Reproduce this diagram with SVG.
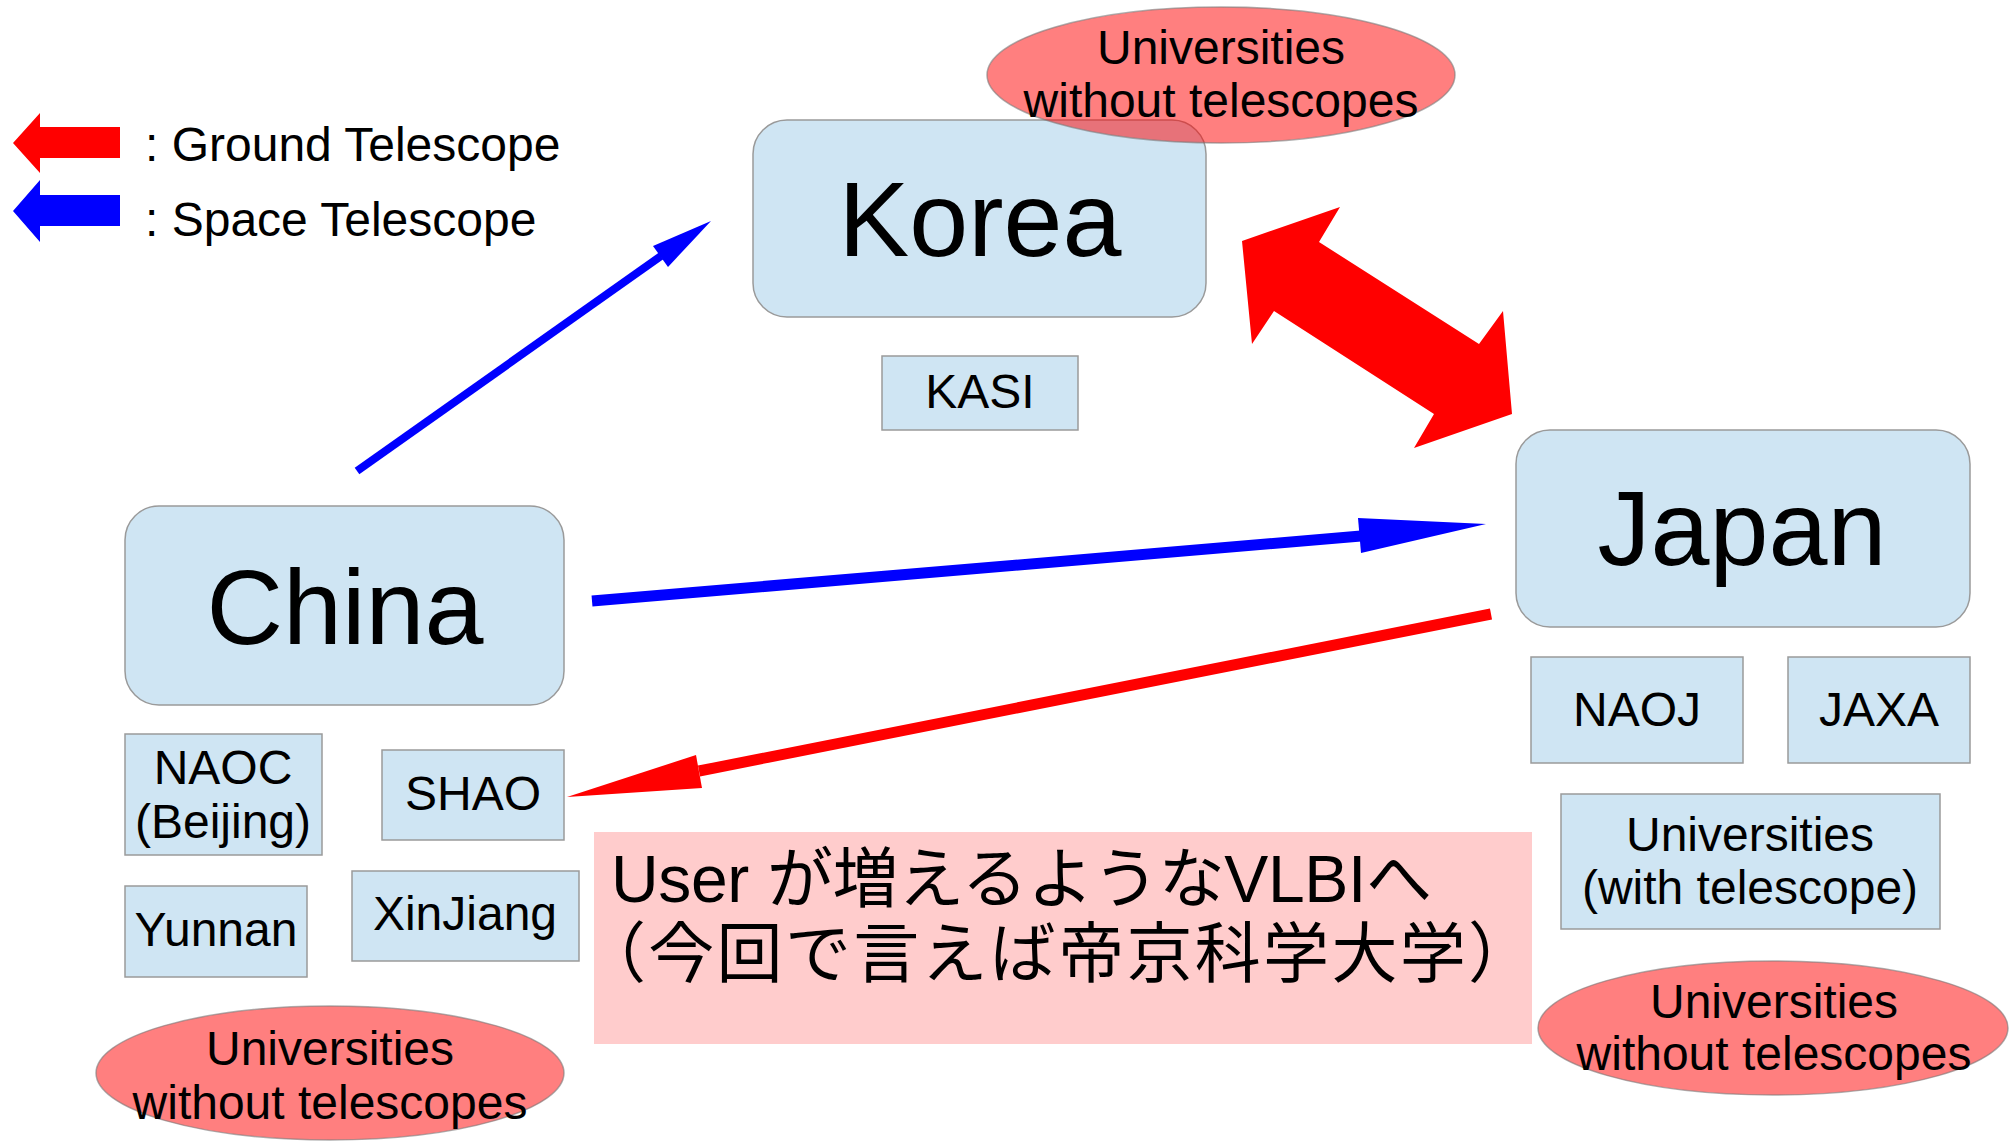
<svg xmlns="http://www.w3.org/2000/svg" width="2014" height="1144" viewBox="0 0 2014 1144">
<style>
.box{fill:#cfe5f3;stroke:#9a9a9a;stroke-width:1.5}
.ell{fill:#ff0000;fill-opacity:0.5;stroke:#7a7a7a;stroke-opacity:0.6;stroke-width:1.5}
.t{font-family:"Liberation Sans",Arial,sans-serif;fill:#000}
.big{font-size:106px;text-anchor:middle}
.mid{font-size:48px;text-anchor:middle}
.leg{font-size:48px}
.jp{font-family:"Liberation Sans","Noto Sans CJK JP",sans-serif;font-size:66px;fill:#000}
.blue{stroke:#0000ff;fill:none}
.red{stroke:#ff0000;fill:none}
</style>
<rect width="2014" height="1144" fill="#ffffff"/>

<g id="legend">
<polygon points="13,143 40,113 40,127 120,127 120,158 40,158 40,173" fill="#ff0000"/>
<polygon points="13,211 40,180 40,195 120,195 120,226 40,226 40,242" fill="#0000ff"/>
<text class="t leg" x="145" y="161">: Ground Telescope</text>
<text class="t leg" x="145" y="236">: Space Telescope</text>
</g>

<g id="korea">
<rect class="box" x="753" y="120" width="453" height="197" rx="34" ry="34"/>
<text class="t big" x="980" y="256">Korea</text>
</g>
<g id="korea-universities">
<ellipse class="ell" cx="1221" cy="75" rx="234" ry="68"/>
<text class="t mid" x="1221" y="64">Universities</text>
<text class="t mid" x="1221" y="117">without telescopes</text>
</g>
<g id="kasi">
<rect class="box" x="882" y="356" width="196" height="74"/>
<text class="t mid" x="980" y="408">KASI</text>
</g>

<g id="china">
<rect class="box" x="125" y="506" width="439" height="199" rx="34" ry="34"/>
<text class="t big" x="345" y="644">China</text>
</g>
<g id="naoc">
<rect class="box" x="125" y="734" width="197" height="121"/>
<text class="t mid" x="223" y="784">NAOC</text>
<text class="t mid" x="223" y="838">(Beijing)</text>
</g>
<g id="shao">
<rect class="box" x="382" y="750" width="182" height="90"/>
<text class="t mid" x="473" y="810">SHAO</text>
</g>
<g id="yunnan">
<rect class="box" x="125" y="886" width="182" height="91"/>
<text class="t mid" x="216" y="946">Yunnan</text>
</g>
<g id="xinjiang">
<rect class="box" x="352" y="871" width="227" height="90"/>
<text class="t mid" x="465" y="930">XinJiang</text>
</g>
<g id="china-universities">
<ellipse class="ell" cx="330" cy="1073" rx="234" ry="67"/>
<text class="t mid" x="330" y="1065">Universities</text>
<text class="t mid" x="330" y="1119">without telescopes</text>
</g>

<g id="japan">
<rect class="box" x="1516" y="430" width="454" height="197" rx="34" ry="34"/>
<text class="t big" x="1742" y="565">Japan</text>
</g>
<g id="naoj">
<rect class="box" x="1531" y="657" width="212" height="106"/>
<text class="t mid" x="1637" y="726">NAOJ</text>
</g>
<g id="jaxa">
<rect class="box" x="1788" y="657" width="182" height="106"/>
<text class="t mid" x="1879" y="726">JAXA</text>
</g>
<g id="japan-universities-with">
<rect class="box" x="1561" y="794" width="379" height="135"/>
<text class="t mid" x="1750" y="851">Universities</text>
<text class="t mid" x="1750" y="904">(with telescope)</text>
</g>
<g id="japan-universities">
<ellipse class="ell" cx="1773" cy="1028" rx="235" ry="67"/>
<text class="t mid" x="1774" y="1018">Universities</text>
<text class="t mid" x="1774" y="1070">without telescopes</text>
</g>

<g id="note">
<rect x="594" y="832" width="938" height="212" fill="#ffcccc"/>
<text class="jp" x="611" y="902" textLength="821">User が増えるようなVLBIへ</text>
<text class="jp" x="580" y="977" textLength="954">（今回で言えば帝京科学大学）</text>
</g>

<g id="connectors">
<line class="blue" x1="357" y1="471" x2="661" y2="256" stroke-width="8"/>
<polygon points="653,246 711,221 668,267" fill="#0000ff"/>
<line class="blue" x1="592" y1="601" x2="1361" y2="536" stroke-width="11"/>
<polygon points="1358,518 1486,524 1361,553" fill="#0000ff"/>
<line class="red" x1="1491" y1="614" x2="699" y2="771" stroke-width="11"/>
<polygon points="696,755 567,797 702,788" fill="#ff0000"/>
<polygon points="1242,241 1340,207 1319,242 1479,344 1503,311 1512,414 1414,448 1434,414 1274,311 1252,344" fill="#ff0000"/>
</g>
</svg>
